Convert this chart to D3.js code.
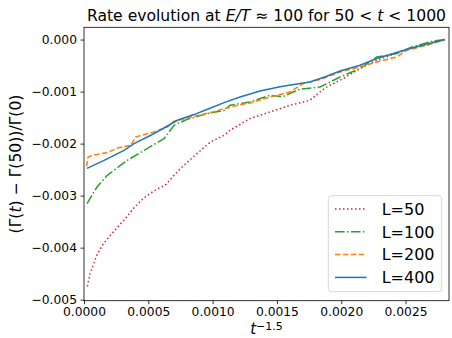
<!DOCTYPE html>
<html>
<head>
<meta charset="utf-8">
<script src="https://cdn.jsdelivr.net/npm/d3@7"></script>
<style>
  body { margin: 0; background: #fff; }
  svg { display: block; font-family: "DejaVu Sans", sans-serif; }
</style>
</head>
<body>
<svg id="chart" width="452" height="338"></svg>
<script>
// t^-1.5 positions and rate changes
const xL50 = [0.000026, 0.000047, 0.000099, 0.00015, 0.000228, 0.000321, 0.000383, 0.000461, 0.000539, 0.000638, 0.0007, 0.000762, 0.000855, 0.00098, 0.001089, 0.001135, 0.001291, 0.001446, 0.001602, 0.001757, 0.001835, 0.001887, 0.002016, 0.002146, 0.002276, 0.002457, 0.002613, 0.002807];
const yL50 = [-0.004744, -0.0045, -0.004148, -0.003923, -0.0037, -0.003442, -0.00325, -0.003052, -0.002917, -0.002783, -0.00261, -0.00245, -0.002244, -0.001975, -0.00184, -0.001744, -0.001519, -0.001392, -0.001263, -0.001167, -0.001008, -0.000912, -0.00075, -0.000558, -0.000398, -0.000238, -0.00011, 0];

const xL100 = [0.000023, 0.00007, 0.000101, 0.000181, 0.000337, 0.000467, 0.000622, 0.0007, 0.000803, 0.000959, 0.001089, 0.001135, 0.001291, 0.001446, 0.001547, 0.001625, 0.00168, 0.001835, 0.001991, 0.002146, 0.002276, 0.002432, 0.002535, 0.002714, 0.002807];
const yL100 = [-0.003154, -0.00296, -0.002835, -0.00261, -0.002321, -0.002129, -0.001904, -0.001648, -0.001533, -0.001423, -0.00136, -0.001263, -0.0012, -0.001071, -0.0011, -0.001008, -0.000956, -0.000912, -0.000719, -0.000558, -0.000335, -0.000269, -0.000154, -0.000027, 0];

const xL200 = [0.00002, 0.000031, 0.000062, 0.000181, 0.000259, 0.000363, 0.000402, 0.000544, 0.000648, 0.0007, 0.00083, 0.000985, 0.001089, 0.001213, 0.001291, 0.001446, 0.001602, 0.001703, 0.001835, 0.001991, 0.002146, 0.002276, 0.002432, 0.002509, 0.002665, 0.002807];
const yL200 = [-0.002437, -0.002263, -0.002225, -0.002173, -0.002085, -0.002033, -0.001873, -0.001777, -0.001681, -0.001571, -0.001488, -0.001404, -0.001327, -0.001255, -0.001219, -0.001104, -0.001008, -0.000846, -0.000769, -0.000623, -0.000527, -0.000431, -0.000335, -0.000206, -0.00011, 0];

const xL400 = [0.000023, 0.000156, 0.000311, 0.000389, 0.000519, 0.000622, 0.000726, 0.000855, 0.000985, 0.001089, 0.001213, 0.001369, 0.001524, 0.00168, 0.001757, 0.001887, 0.001991, 0.002146, 0.002276, 0.002405, 0.002535, 0.002665, 0.002807];
const yL400 = [-0.002475, -0.002321, -0.002129, -0.002, -0.00184, -0.0017, -0.001552, -0.001442, -0.001315, -0.001212, -0.001104, -0.000988, -0.000908, -0.000846, -0.000815, -0.000706, -0.000604, -0.000494, -0.000365, -0.000269, -0.000173, -0.00009, 0];

const labels = ["L=50", "L=100", "L=200", "L=400"];
const colors = ["#d62728", "#2ca02c", "#ff7f0e", "#1f77b4"];
const dashes = ["1.5,2.5", "9.6,2.4,1.5,2.4", "5.5,2.4", null];

const xTicks = [0, 0.0005, 0.001, 0.0015, 0.002, 0.0025];
const yTicks = [0, -0.001, -0.002, -0.003, -0.004, -0.005];

let series = [[xL50, yL50], [xL100, yL100], [xL200, yL200], [xL400, yL400]].map(function (s, i) {
    return {label: labels[i], color: colors[i], dash: dashes[i],
            pts: s[0].map(function (v, j) { return [v, s[1][j]]; })};
});

let svg = d3.select("#chart");
let plotL = 84, plotR = 449, plotT = 27.3, plotB = 300.7;

let x = d3.scaleLinear().domain([0, 0.002838]).range([plotL, plotR]);
let y = d3.scaleLinear().domain([-0.00502, 0.000236]).range([plotB, plotT]);

let line = d3.line()
    .x(function (d) { return x(d[0]); })
    .y(function (d) { return y(d[1]); });

// curves
svg.append("g").selectAll("path")
    .data(series)
    .enter().append("path")
    .attr("d", function (d) { return line(d.pts); })
    .attr("fill", "none")
    .attr("stroke", function (d) { return d.color; })
    .attr("stroke-width", 1.5)
    .attr("stroke-dasharray", function (d) { return d.dash; });

// axes
let xAxis = d3.axisBottom(x).tickValues(xTicks).tickFormat(d3.format(".4f"))
    .tickSize(3.5).tickPadding(3.5);
let yAxis = d3.axisLeft(y).tickValues(yTicks).tickFormat(d3.format(".3f"))
    .tickSize(3.5).tickPadding(3.5);

let gx = svg.append("g").attr("transform", "translate(0," + plotB + ")").call(xAxis);
let gy = svg.append("g").attr("transform", "translate(" + plotL + ",0)").call(yAxis);
[gx, gy].forEach(function (g) {
    g.select(".domain").remove();
    g.selectAll("line").attr("stroke", "#000").attr("stroke-width", 0.8);
    g.selectAll("text").attr("fill", "#000").style("font-size", "12.3px")
        .style("font-family", "DejaVu Sans");
});

// frame
svg.append("rect")
    .attr("x", plotL).attr("y", plotT)
    .attr("width", plotR - plotL).attr("height", plotB - plotT)
    .attr("fill", "none").attr("stroke", "#000").attr("stroke-width", 0.8);

// title
let title = svg.append("text")
    .attr("x", (plotL + plotR) / 2).attr("y", 21)
    .attr("text-anchor", "middle").style("font-size", "15.6px");
title.append("tspan").text("Rate evolution at ");
title.append("tspan").style("font-style", "italic").text("E/T");
title.append("tspan").text(" \u2248 100 for 50 < ");
title.append("tspan").style("font-style", "italic").text("t");
title.append("tspan").text(" < 1000");

// y label
let ylab = svg.append("text")
    .attr("transform", "translate(21," + (plotT + plotB) / 2 + ") rotate(-90)")
    .attr("text-anchor", "middle").style("font-size", "15.6px");
ylab.append("tspan").text("(\u0393(");
ylab.append("tspan").style("font-style", "italic").text("t");
ylab.append("tspan").text(") \u2212 \u0393(50))/\u0393(0)");

// x label
let xlab = svg.append("text")
    .attr("x", (plotL + plotR) / 2).attr("y", 334.3)
    .attr("text-anchor", "middle").style("font-size", "15px");
xlab.append("tspan").style("font-style", "italic").text("t");
xlab.append("tspan").attr("dy", -4.5).style("font-size", "11px").text("\u22121.5");

// legend
let lg = svg.append("g");
lg.append("rect")
    .attr("x", 328.3).attr("y", 195.7).attr("width", 113.4).attr("height", 96)
    .attr("rx", 3).attr("fill", "#fff").attr("fill-opacity", 0.8)
    .attr("stroke", "#ccc").attr("stroke-width", 0.8);
let rows = lg.selectAll("g.row").data(series).enter().append("g")
    .attr("class", "row")
    .attr("transform", function (d, i) { return "translate(0," + (209 + 22.8 * i) + ")"; });
rows.append("line")
    .attr("x1", 335).attr("x2", 366.7).attr("y1", 0).attr("y2", 0)
    .attr("stroke", function (d) { return d.color; })
    .attr("stroke-width", 1.5)
    .attr("stroke-dasharray", function (d) { return d.dash; });
rows.append("text")
    .attr("x", 381.7).attr("y", 5.8)
    .style("font-size", "16px")
    .text(function (d) { return d.label; });
</script>
</body>
</html>
